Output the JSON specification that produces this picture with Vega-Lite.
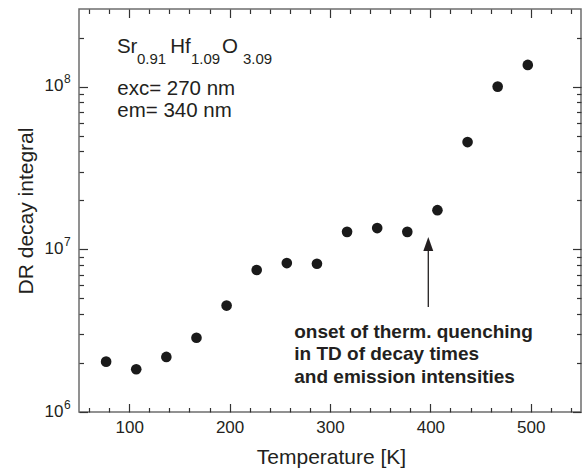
{
  "$schema": "https://vega.github.io/schema/vega-lite/v6.json",
  "width": 502,
  "height": 403,
  "autosize": {"type": "none"},
  "padding": {"left": 79, "top": 9, "right": 4, "bottom": 56},
  "background": "white",
  "config": {
    "view": {"stroke": "#6d6d6d", "strokeWidth": 1.5},
    "axis": {"grid": false, "domain": false, "labelFont": "Liberation Sans", "titleFont": "Liberation Sans", "labelColor": "#231f20", "titleColor": "#231f20", "tickColor": "#333333", "tickWidth": 1.2},
    "text": {"font": "Liberation Sans", "color": "#231f20"}
  },
  "datasets": {
    "pts": [
      {"T": 77, "v": 2040000},
      {"T": 107, "v": 1830000},
      {"T": 137, "v": 2180000},
      {"T": 167, "v": 2860000},
      {"T": 197, "v": 4510000},
      {"T": 227, "v": 7460000},
      {"T": 257, "v": 8230000},
      {"T": 287, "v": 8150000},
      {"T": 317, "v": 12800000},
      {"T": 347, "v": 13500000},
      {"T": 377, "v": 12800000},
      {"T": 407, "v": 17400000},
      {"T": 437, "v": 45600000},
      {"T": 467, "v": 100000000},
      {"T": 497, "v": 136000000}
    ]
  },
  "resolve": {"axis": {"x": "independent", "y": "independent"}},
  "layer": [
    {
      "data": {"name": "pts"},
      "mark": {"type": "point", "shape": "circle", "filled": true, "size": 113, "color": "#1a1a1a", "opacity": 1},
      "encoding": {
        "x": {"field": "T", "type": "quantitative",
              "scale": {"domain": [50, 550], "nice": false, "zero": false},
              "axis": {"orient": "bottom", "values": [100, 200, 300, 400, 500], "ticks": false, "labelFontSize": 17, "labelPadding": 7,
                       "title": "Temperature [K]", "titleFontSize": 21, "titleFontWeight": "normal", "titleX": 252, "titleY": 51, "titleBaseline": "alphabetic", "titleAlign": "center"}},
        "y": {"field": "v", "type": "quantitative",
              "scale": {"type": "log", "domain": [1000000, 300000000], "nice": false},
              "axis": {"orient": "left", "values": [1000000, 10000000, 100000000], "ticks": false, "labelFontSize": 17, "labelPadding": 16, "labelAlign": "right", "labelBaseline": "middle", "labelOffset": -1,
                       "labelExpr": "'10'",
                       "title": "DR decay integral", "titleFontSize": 21, "titleFontWeight": "normal", "titleX": -47, "titleY": 201.5, "titleBaseline": "alphabetic", "titleAlign": "center", "titleAngle": 270}}
      }
    },
    {
      "data": {"name": "pts"},
      "mark": {"type": "point", "opacity": 0},
      "encoding": {
        "x": {"field": "T", "type": "quantitative", "scale": {"domain": [50, 550], "nice": false, "zero": false}, "axis": null},
        "y": {"field": "v", "type": "quantitative", "scale": {"type": "log", "domain": [1000000, 300000000], "nice": false},
              "axis": {"orient": "left", "values": [1000000, 10000000, 100000000], "ticks": false, "labelFontSize": 12, "labelPadding": 15.5, "labelAlign": "left", "labelBaseline": "middle", "labelOffset": -8,
                       "labelExpr": "datum.value >= 50000000 ? '8' : datum.value >= 5000000 ? '7' : '6'", "title": null}}
      }
    },
    {
      "data": {"name": "pts"},
      "mark": {"type": "point", "opacity": 0},
      "encoding": {
        "x": {"field": "T", "type": "quantitative", "scale": {"domain": [50, 550], "nice": false, "zero": false},
              "axis": {"orient": "bottom", "values": [100, 200, 300, 400, 500], "labels": false, "tickSize": -8.5, "title": null}},
        "y": {"field": "v", "type": "quantitative", "scale": {"type": "log", "domain": [1000000, 300000000], "nice": false},
              "axis": {"orient": "left", "values": [1000000, 10000000, 100000000], "labels": false, "tickSize": -8.5, "title": null}}
      }
    },
    {
      "data": {"name": "pts"},
      "mark": {"type": "point", "opacity": 0},
      "encoding": {
        "x": {"field": "T", "type": "quantitative", "scale": {"domain": [50, 550], "nice": false, "zero": false},
              "axis": {"orient": "bottom", "values": [60, 80, 120, 140, 160, 180, 220, 240, 260, 280, 320, 340, 360, 380, 420, 440, 460, 480, 520, 540], "labels": false, "tickSize": -4.5, "title": null}},
        "y": {"field": "v", "type": "quantitative", "scale": {"type": "log", "domain": [1000000, 300000000], "nice": false},
              "axis": {"orient": "left", "values": [2000000, 3000000, 4000000, 5000000, 6000000, 7000000, 8000000, 9000000, 20000000, 30000000, 40000000, 50000000, 60000000, 70000000, 80000000, 90000000, 200000000], "labels": false, "tickSize": -4.5, "title": null}}
      }
    },
    {
      "data": {"name": "pts"},
      "mark": {"type": "point", "opacity": 0},
      "encoding": {
        "x": {"field": "T", "type": "quantitative", "scale": {"domain": [50, 550], "nice": false, "zero": false},
              "axis": {"orient": "top", "values": [100, 200, 300, 400, 500], "labels": false, "tickSize": -8.5, "title": null}},
        "y": {"field": "v", "type": "quantitative", "scale": {"type": "log", "domain": [1000000, 300000000], "nice": false},
              "axis": {"orient": "right", "values": [1000000, 10000000, 100000000], "labels": false, "tickSize": -8.5, "title": null}}
      }
    },
    {
      "data": {"name": "pts"},
      "mark": {"type": "point", "opacity": 0},
      "encoding": {
        "x": {"field": "T", "type": "quantitative", "scale": {"domain": [50, 550], "nice": false, "zero": false},
              "axis": {"orient": "top", "values": [60, 80, 120, 140, 160, 180, 220, 240, 260, 280, 320, 340, 360, 380, 420, 440, 460, 480, 520, 540], "labels": false, "tickSize": -4.5, "title": null}},
        "y": {"field": "v", "type": "quantitative", "scale": {"type": "log", "domain": [1000000, 300000000], "nice": false},
              "axis": {"orient": "right", "values": [2000000, 3000000, 4000000, 5000000, 6000000, 7000000, 8000000, 9000000, 20000000, 30000000, 40000000, 50000000, 60000000, 70000000, 80000000, 90000000, 200000000], "labels": false, "tickSize": -4.5, "title": null}}
      }
    },
    {
      "data": {"values": [
        {"T": 87.8, "v": 160200000, "txt": "Sr"},
        {"T": 140.9, "v": 160200000, "txt": "Hf"},
        {"T": 192.4, "v": 160200000, "txt": "O"},
        {"T": 88.1, "v": 88800000, "txt": "exc= 270 nm"},
        {"T": 88.1, "v": 65300000, "txt": "em= 340 nm"}
      ]},
      "mark": {"type": "text", "align": "left", "baseline": "alphabetic", "fontSize": 20.5},
      "encoding": {
        "x": {"field": "T", "type": "quantitative", "axis": null},
        "y": {"field": "v", "type": "quantitative", "axis": null},
        "text": {"field": "txt"}
      }
    },
    {
      "data": {"values": [
        {"T": 107.7, "v": 137100000, "txt": "0.91"},
        {"T": 161.5, "v": 137100000, "txt": "1.09"},
        {"T": 213.3, "v": 137100000, "txt": "3.09"}
      ]},
      "mark": {"type": "text", "align": "left", "baseline": "alphabetic", "fontSize": 15},
      "encoding": {
        "x": {"field": "T", "type": "quantitative", "axis": null},
        "y": {"field": "v", "type": "quantitative", "axis": null},
        "text": {"field": "txt"}
      }
    },
    {
      "data": {"values": [
        {"T": 264.4, "v": 2850000, "txt": "onset of therm. quenching"},
        {"T": 264.4, "v": 2087000, "txt": "in TD of decay times"},
        {"T": 264.4, "v": 1514000, "txt": "and emission intensities"}
      ]},
      "mark": {"type": "text", "align": "left", "baseline": "alphabetic", "fontSize": 19, "fontWeight": "bold"},
      "encoding": {
        "x": {"field": "T", "type": "quantitative", "axis": null},
        "y": {"field": "v", "type": "quantitative", "axis": null},
        "text": {"field": "txt"}
      }
    },
    {
      "data": {"values": [{"T": 397.9, "v": 4420000, "v2": 10780000}]},
      "mark": {"type": "rule", "color": "#231f20", "strokeWidth": 1.3},
      "encoding": {
        "x": {"field": "T", "type": "quantitative", "axis": null},
        "y": {"field": "v", "type": "quantitative", "axis": null},
        "y2": {"field": "v2"}
      }
    },
    {
      "data": {"values": [{"T": 397.9, "v": 10780000}]},
      "mark": {"type": "point", "shape": "M0,-1L0.71,1L-0.71,1Z", "filled": true, "size": 196, "color": "#231f20", "opacity": 1},
      "encoding": {
        "x": {"field": "T", "type": "quantitative", "axis": null},
        "y": {"field": "v", "type": "quantitative", "axis": null}
      }
    }
  ]
}
